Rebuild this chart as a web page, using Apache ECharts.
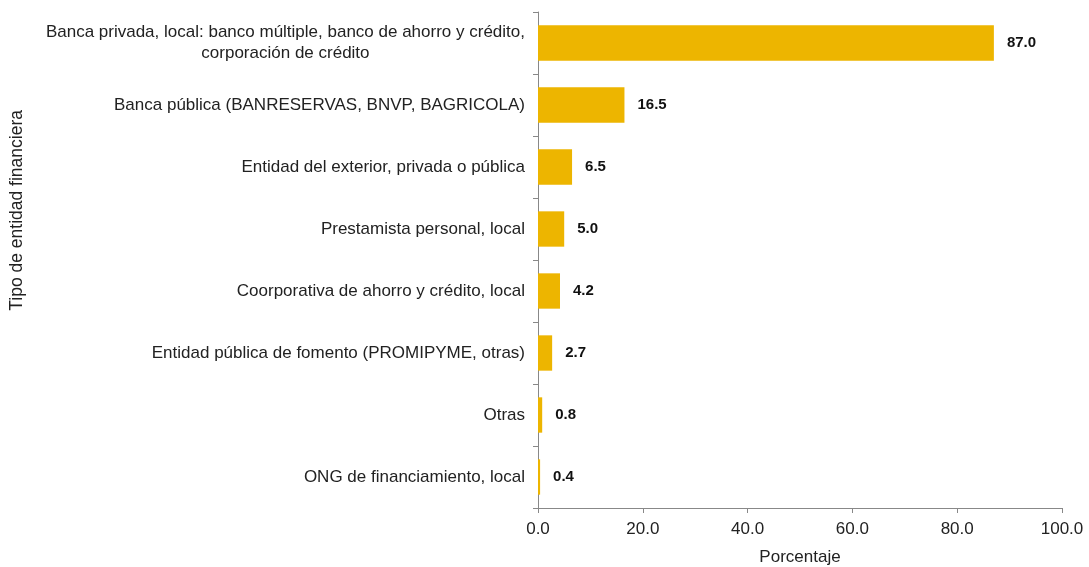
<!DOCTYPE html>
<html>
<head>
<meta charset="utf-8">
<script src="https://cdn.jsdelivr.net/npm/echarts@6/dist/echarts.min.js"></script>
<style>
  html, body { margin: 0; padding: 0; background: #fff; }
  #chart { width: 1089px; height: 567px; }
</style>
</head>
<body>
<div id="chart"></div>
<script>
// categorías (de arriba hacia abajo)
const categories = [
  'Banca privada, local: banco múltiple, banco de ahorro y crédito,\ncorporación de crédito',
  'Banca pública (BANRESERVAS, BNVP, BAGRICOLA)',
  'Entidad del exterior, privada o pública',
  'Prestamista personal, local',
  'Coorporativa de ahorro y crédito, local',
  'Entidad pública de fomento (PROMIPYME, otras)',
  'Otras',
  'ONG de financiamiento, local'
]
const values = [87.0, 16.5, 6.5, 5.0, 4.2, 2.7, 0.8, 0.4]
const xTicks = [0, 20, 40, 60, 80, 100]

const font = 'Liberation Sans, Arial, sans-serif'
const chart = echarts.init(document.getElementById('chart'))

chart.setOption({
  animation: false,
  grid: { left: 538, right: 27, top: 12, bottom: 59, outerBoundsMode: 'none' },
  xAxis: {
    type: 'value',
    min: xTicks[0],
    max: xTicks[xTicks.length - 1],
    interval: 20,
    name: 'Porcentaje',
    nameLocation: 'middle',
    nameGap: 41,
    nameTextStyle: { fontFamily: font, fontSize: 17, color: '#222' },
    axisLine: { show: true, lineStyle: { color: '#888' } },
    axisTick: { show: true, length: 5, lineStyle: { color: '#888' } },
    axisLabel: { fontFamily: font, fontSize: 17, color: '#222', margin: 13,
      formatter: v => v.toFixed(1) },
    splitLine: { show: false }
  },
  yAxis: {
    type: 'category',
    inverse: true,
    data: categories,
    axisLine: { show: true, lineStyle: { color: '#888' } },
    axisTick: { show: true, length: 5, lineStyle: { color: '#888' } },
    axisLabel: {
      fontFamily: font, fontSize: 17, color: '#222', margin: 13, lineHeight: 21,
      // etiqueta de dos líneas centrada como en el original
      formatter: v => v.indexOf('\n') >= 0
        ? v.split('\n').map(s => '{c|' + s + '}').join('\n')
        : v,
      rich: { c: { align: 'center', fontFamily: font, fontSize: 17, color: '#222', lineHeight: 21 } }
    }
  },
  graphic: [{
    type: 'text',
    left: 8,
    top: 110,
    rotation: Math.PI / 2,
    style: { text: 'Tipo de entidad financiera', fontFamily: font, fontSize: 17.5, fill: '#222' }
  }],
  series: [{
    type: 'bar',
    data: values,
    barCategoryGap: '43%',
    itemStyle: { color: '#EDB500' },
    label: {
      show: true,
      position: 'right',
      distance: 13,
      fontFamily: font,
      fontSize: 15,
      fontWeight: 'bold',
      color: '#111',
      formatter: p => p.value.toFixed(1)
    }
  }]
})
</script>
</body>
</html>
